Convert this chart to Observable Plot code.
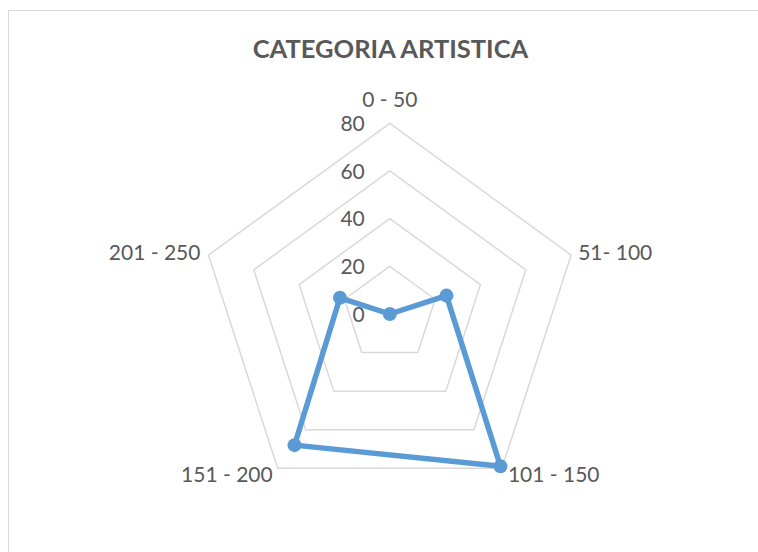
<!DOCTYPE html>
<html><head><meta charset="utf-8">
<script src="https://cdn.jsdelivr.net/npm/d3@7"></script>
<script src="https://cdn.jsdelivr.net/npm/@observablehq/plot@0.6"></script>
<style>
body{margin:0;background:#fff;}
#wrap{position:relative;width:758px;height:552px;overflow:hidden;background:#fff;}
#frame{position:absolute;left:8px;top:10px;width:800px;height:600px;border-left:1.5px solid #d9d9d9;border-top:1.5px solid #d9d9d9;}
#chart{position:absolute;left:0;top:0;}
svg text{font-family:Lato,"Open Sans",sans-serif;}
</style></head><body>
<div id="wrap"><div id="frame"></div><div id="chart"></div></div>
<script>
const title = "CATEGORIA ARTISTICA";
const categories = ["0 - 50", "51- 100", "101 - 150", "151 - 200", "201 - 250"];
const values = [0, 25, 79, 68, 22];
const ticks = [0, 20, 40, 60, 80];

const W = 758, H = 552;
const maxV = 80, radiusPx = 190.7, cx = 389.3, cy = 313.5;
const k = radiusPx / maxV;
const n = categories.length;
const ang = i => i * 2 * Math.PI / n;
const px = (v, i) => v * Math.sin(ang(i));
const py = (v, i) => v * Math.cos(ang(i));

const rings = ticks.filter(t => t > 0).flatMap(t =>
  categories.map((c, i) => ({ring: t, x: px(t, i), y: py(t, i)})));
const pts = categories.map((c, i) => ({cat: c, v: values[i], x: px(values[i], i), y: py(values[i], i)}));
const lbl = categories.map((c, i) => {
  const s = Math.sin(ang(i)), co = Math.cos(ang(i));
  return {text: c, x: px(maxV, i), y: py(maxV, i), side: Math.abs(s) < 0.1 ? "top" : (s > 0 ? (co > 0 ? "ru" : "rd") : (co > 0 ? "lu" : "ld"))};
});
const place = {
  top: {textAnchor: "middle", dx: 0, dy: -23},
  ru: {textAnchor: "start", dx: 7, dy: -2},
  lu: {textAnchor: "end", dx: -8, dy: -2},
  rd: {textAnchor: "start", dx: 6, dy: 7},
  ld: {textAnchor: "end", dx: -5, dy: 7}
};
const txtStyle = {fill: "#595959", fontSize: 21, fontFamily: "Lato"};

const chart = Plot.plot({
  width: W, height: H,
  margin: 0,
  x: {domain: [-cx / k, (W - cx) / k], axis: null},
  y: {domain: [-(H - cy) / k, cy / k], axis: null},
  style: {background: "transparent", fontFamily: "Lato"},
  marks: [
    Plot.line(rings, {x: "x", y: "y", z: "ring", curve: "linear-closed", stroke: "#d9d9d9", strokeWidth: 1.5}),
    Plot.text(ticks, {x: () => 0, y: d => d, text: d => String(d), textAnchor: "end", dx: -25, dy: 1, ...txtStyle}),
    Plot.line(pts, {x: "x", y: "y", curve: "linear-closed", stroke: "#5B9BD5", strokeWidth: 5.5, strokeLinejoin: "round"}),
    Plot.dot(pts, {x: "x", y: "y", r: 7, fill: "#5B9BD5", stroke: "none"}),
    ...Object.entries(place).map(([side, o]) =>
      Plot.text(lbl.filter(d => d.side === side), {x: "x", y: "y", text: "text", ...o, ...txtStyle})),
    Plot.text([title], {frameAnchor: "top", dx: 11, dy: 49.5, text: d => d, fill: "#595959", fontSize: 25.5, fontWeight: "bold", fontFamily: "Lato", lineAnchor: "middle"})
  ]
});
document.getElementById("chart").appendChild(chart);
</script>
</body></html>
